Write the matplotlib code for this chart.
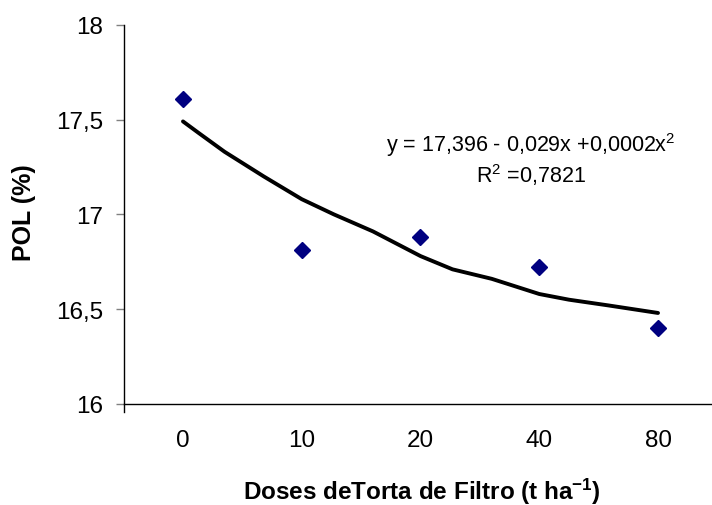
import matplotlib
matplotlib.use("Agg")
import matplotlib.pyplot as plt

plt.rcParams['font.family'] = ['Liberation Sans', 'DejaVu Sans']
plt.rcParams['mathtext.default'] = 'regular'

# Data
categories = ["0", "10", "20", "40", "80"]
pol_values = [17.61, 16.81, 16.88, 16.72, 16.40]

# Trend curve (category position, value)
trend_pos = [0.0, 0.13, 0.35, 0.68, 1.0, 1.27, 1.6, 2.0, 2.27, 2.6, 3.0, 3.25, 3.58, 4.0]
trend_val = [17.49, 17.43, 17.33, 17.20, 17.08, 17.00, 16.91, 16.78, 16.71, 16.66, 16.58, 16.55, 16.52, 16.48]

y_ticks = [16, 16.5, 17, 17.5, 18]
y_tick_labels = ["16", "16,5", "17", "17,5", "18"]

equation_text = "y = 17,396 - 0,029x +0,0002x$^{2}$"
r2_text = "R$^{2}$ =0,7821"
x_label = "Doses deTorta de Filtro (t ha$^{-1}$)"
y_label = "POL (%)"

W, H = 712, 506
fig = plt.figure(figsize=(W / 100, H / 100), dpi=100)
ax = fig.add_axes([123.6 / W, 1 - 405 / H, (717.4 - 123.6) / W, (405 - 25.7) / H])

x = list(range(len(categories)))
ax.plot(trend_pos, trend_val, color='black', linewidth=2.8, solid_capstyle='round',
        solid_joinstyle='round', zorder=2)
ax.plot(x, pol_values, linestyle='none', marker='D', markersize=8.5, color='#000080', zorder=3)

ax.set_xlim(-0.5, len(categories) - 0.5)
ax.set_ylim(16, 18)
ax.set_xticks(x)
ax.set_xticklabels(categories, fontsize=17.5)
ax.set_yticks(y_ticks)
ax.set_yticklabels(y_tick_labels, fontsize=17.5)
ax.tick_params(axis='x', length=0, pad=18)
ax.tick_params(axis='y', length=6, width=1, color='#808080', pad=9, direction='out')

for s in ['top', 'right']:
    ax.spines[s].set_visible(False)
ax.spines['left'].set_linewidth(1)
ax.spines['bottom'].set_linewidth(1)
ax.spines['left'].set_bounds(15.96, 18)

fig.text(531 / W, 1 - 145 / H, equation_text, ha='center', va='center', fontsize=15.5)
fig.text(531 / W, 1 - 175 / H, r2_text, ha='center', va='center', fontsize=15.5)

fig.text(422 / W, 1 - 500 / H, x_label, ha='center', va='baseline', fontsize=17.5, fontweight='bold')
fig.text(24 / W, 1 - 213 / H, y_label, ha='center', va='center', rotation=90, fontsize=18, fontweight='bold')

fig.savefig('out.png', dpi=100)
